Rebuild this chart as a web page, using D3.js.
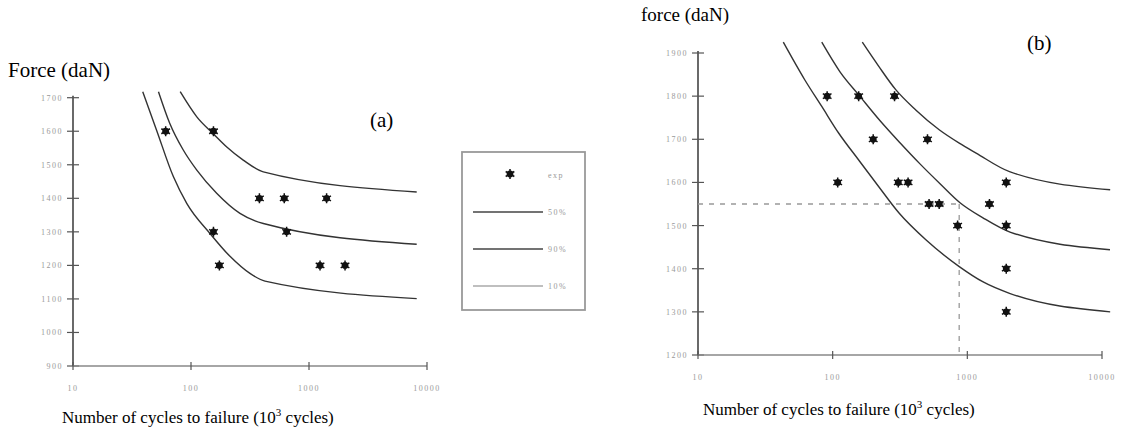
<!DOCTYPE html>
<html>
<head>
<meta charset="utf-8">
<script src="https://cdn.jsdelivr.net/npm/d3@7"></script>
<style>
  body { margin: 0; background: #fff; }
  svg { display: block; }
  .title { font-family: "Liberation Serif", "Times New Roman", serif; fill: #000; }
  .tick-label { font-family: "Liberation Serif", serif; font-size: 8px; fill: #999; letter-spacing: 1.5px; }
</style>
</head>
<body>
<svg id="chart" width="1125" height="432"></svg>
<script>
// ---- data (cycles in 10^3, force in daN) ----
const cycleTicks = [10, 100, 1000, 10000];
const forceTicksA = [900, 1000, 1100, 1200, 1300, 1400, 1500, 1600, 1700];
const forceTicksB = [1200, 1300, 1400, 1500, 1600, 1700, 1800, 1900];

// panel (a) experiments
const expA = [[61, 1600], [155, 1600], [380, 1400], [617, 1400], [1410, 1400],
              [155, 1300], [646, 1300], [174, 1200], [1240, 1200], [2020, 1200]];

// panel (a) fitted curves
const curveA10 = [[39, 1718], [51, 1604], [71, 1464], [92, 1385], [145, 1295],
                  [214, 1227], [316, 1176], [424, 1153], [8180, 1101]];
const curveA50 = [[53, 1718], [66, 1624], [86, 1544], [112, 1484], [165, 1415],
                  [260, 1355], [410, 1325], [8180, 1263]];
const curveA90 = [[81, 1718], [112, 1643], [155, 1592], [201, 1553], [277, 1514],
                  [410, 1479], [8180, 1419]];

// panel (b) experiments
const expB = [[91, 1800], [156, 1800], [288, 1800], [200, 1700], [506, 1700],
              [109, 1600], [307, 1600], [363, 1600], [1945, 1600],
              [520, 1550], [618, 1550], [1460, 1550],
              [847, 1500], [1945, 1500], [1945, 1400], [1945, 1300]];

// panel (b) fitted curves
const curveB10 = [[43, 1925], [62, 1838], [83, 1776], [111, 1714], [156, 1652],
                  [220, 1590], [311, 1529], [492, 1467], [871, 1405], [1300, 1370],
                  [2057, 1343], [11500, 1300]];
const curveB50 = [[83, 1925], [113, 1857], [160, 1799], [225, 1743], [316, 1692],
                  [445, 1643], [627, 1597], [882, 1553], [1306, 1518], [2074, 1485],
                  [11460, 1444]];
const curveB90 = [[166, 1925], [220, 1869], [294, 1815], [414, 1768], [618, 1722],
                  [871, 1691], [1162, 1668], [2057, 1625], [11500, 1583]];

// reading of the 1550 daN level
const readLevel = [10, 870, 1550];

const legendItems = ['50%', '90%', '10%'];

const svg = d3.select('#chart');

function star(g, x, y) {
    g.append('circle').attr('cx', x).attr('cy', y).attr('r', 3.4).attr('fill', '#111');
    g.append('path')
        .attr('d', d3.symbol(d3.symbolAsterisk, 70)())
        .attr('transform', `translate(${x},${y})`)
        .attr('stroke', '#111')
        .attr('stroke-width', 1.5)
        .attr('fill', 'none');
}

function drawPanel(opts) {
    const x = d3.scaleLog().domain([10, 10000]).range(opts.xRange);
    const y = d3.scaleLinear().domain(opts.yDomain).range(opts.yRange);
    const g = svg.append('g');

    // y axis
    g.append('line')
        .attr('x1', x(10)).attr('x2', x(10))
        .attr('y1', y(opts.yDomain[1]) - 2).attr('y2', y(opts.yDomain[0]))
        .attr('stroke', '#444').attr('stroke-width', 1.6);
    opts.yTicks.forEach(t => {
        g.append('line')
            .attr('x1', x(10) - 6).attr('x2', x(10) + 6)
            .attr('y1', y(t)).attr('y2', y(t))
            .attr('stroke', '#555').attr('stroke-width', 1.2);
        g.append('text').attr('class', 'tick-label')
            .attr('x', x(10) - 10).attr('y', y(t) + 3)
            .attr('text-anchor', 'end')
            .text(t);
    });

    // x axis
    g.append('line')
        .attr('x1', x(10)).attr('x2', x(10000))
        .attr('y1', y(opts.yDomain[0])).attr('y2', y(opts.yDomain[0]))
        .attr('stroke', '#888').attr('stroke-width', 1.6);
    cycleTicks.forEach(t => {
        g.append('line')
            .attr('x1', x(t)).attr('x2', x(t))
            .attr('y1', y(opts.yDomain[0]) - 4).attr('y2', y(opts.yDomain[0]) + 4)
            .attr('stroke', '#555').attr('stroke-width', 1.2);
        g.append('text').attr('class', 'tick-label')
            .attr('x', x(t)).attr('y', y(opts.yDomain[0]) + 25)
            .attr('text-anchor', 'middle')
            .text(t);
    });

    // curves
    const line = d3.line()
        .x(d => x(d[0]))
        .y(d => y(d[1]))
        .curve(d3.curveMonotoneX);
    opts.curves.forEach(c => {
        g.append('path')
            .attr('d', line(c))
            .attr('fill', 'none')
            .attr('stroke', '#333')
            .attr('stroke-width', 1.4);
    });

    if (opts.level) {
        const [x0, x1, f] = opts.level;
        g.append('line')
            .attr('x1', x(x0)).attr('x2', x(x1))
            .attr('y1', y(f)).attr('y2', y(f))
            .attr('stroke', '#999').attr('stroke-width', 1.3)
            .attr('stroke-dasharray', '5,6');
        g.append('line')
            .attr('x1', x(x1)).attr('x2', x(x1))
            .attr('y1', y(f)).attr('y2', y(opts.yDomain[0]))
            .attr('stroke', '#999').attr('stroke-width', 1.3)
            .attr('stroke-dasharray', '5,6');
    }

    opts.points.forEach(p => star(g, x(p[0]), y(p[1])));

    // titles
    g.append('text').attr('class', 'title')
        .attr('x', opts.yTitle[0]).attr('y', opts.yTitle[1])
        .style('font-size', opts.yTitle[3] + 'px')
        .text(opts.yTitle[2]);
    g.append('text').attr('class', 'title')
        .attr('x', opts.tag[0]).attr('y', opts.tag[1])
        .style('font-size', '21px')
        .text(opts.tag[2]);
    const xt = g.append('text').attr('class', 'title')
        .attr('x', opts.xTitle[0]).attr('y', opts.xTitle[1])
        .style('font-size', '17px');
    xt.append('tspan').text('Number of cycles to failure (10');
    xt.append('tspan').attr('dy', -7).style('font-size', '11px').text('3');
    xt.append('tspan').attr('dy', 7).text(' cycles)');
}

drawPanel({
    xRange: [73, 427], yDomain: [900, 1700], yRange: [366, 97.7],
    yTicks: forceTicksA, curves: [curveA10, curveA50, curveA90], points: expA,
    yTitle: [8, 77, 'Force (daN)', 21], tag: [370, 127, '(a)'], xTitle: [62, 423]
});

drawPanel({
    xRange: [698, 1102], yDomain: [1200, 1900], yRange: [355, 53],
    yTicks: forceTicksB, curves: [curveB10, curveB50, curveB90], points: expB,
    level: readLevel,
    yTitle: [641, 21, 'force (daN)', 19], tag: [1027, 50, '(b)'], xTitle: [703, 415]
});

// legend of panel (a)
const lg = svg.append('g');
lg.append('rect')
    .attr('x', 462).attr('y', 152).attr('width', 123).attr('height', 158)
    .attr('fill', 'none').attr('stroke', '#999').attr('stroke-width', 1.8);
star(lg, 510, 174);
lg.append('text').attr('class', 'tick-label').attr('x', 548).attr('y', 178).text('exp');
legendItems.forEach((name, i) => {
    const yy = 212 + i * 37;
    lg.append('line')
        .attr('x1', 473).attr('x2', 543).attr('y1', yy).attr('y2', yy)
        .attr('stroke', i === 2 ? '#aaa' : '#444').attr('stroke-width', 1.5);
    lg.append('text').attr('class', 'tick-label').attr('x', 548).attr('y', yy + 3).text(name);
});
</script>
</body>
</html>
